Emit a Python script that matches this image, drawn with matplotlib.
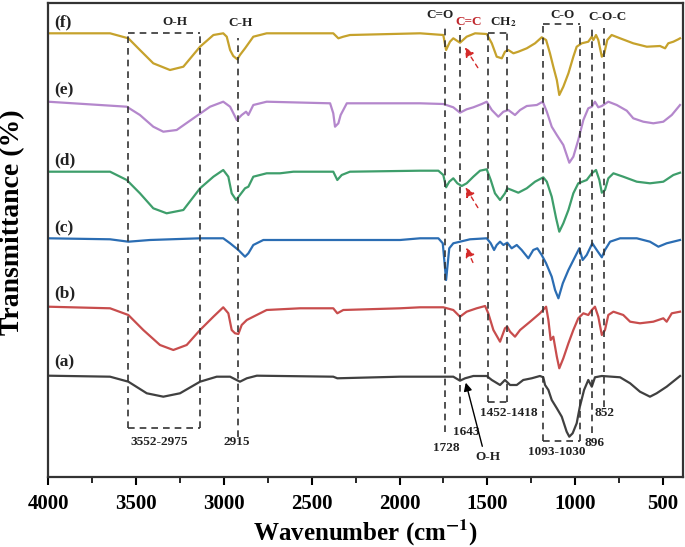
import matplotlib
matplotlib.use("Agg")
import matplotlib.pyplot as plt
from matplotlib.ticker import MultipleLocator

plt.rcParams['font.family'] = ['Liberation Serif', 'DejaVu Serif']
plt.rcParams['font.weight'] = 'bold'
plt.rcParams['mathtext.fontset'] = 'stix'

# ---------------- data ----------------
wn_f = [4000, 3647, 3543, 3477, 3401, 3306, 3230, 3135, 3059, 3003, 2983, 2964, 2946, 2923, 2908, 2879, 2832, 2756,
        2377, 2348, 2320, 2282, 1883, 1751, 1735, 1713, 1694, 1656, 1618, 1570, 1504, 1475, 1447, 1418, 1400, 1381,
        1352, 1324, 1276, 1229, 1191, 1166, 1144, 1125, 1105, 1091, 1068, 1039, 1011, 992, 963, 926, 906, 897, 882,
        869, 849, 835, 818, 793, 745, 670, 593, 518, 489, 471, 442, 414, 404]
t_f = [443.7, 443.7, 438.7, 427, 413.7, 407, 410.3, 430.3, 442, 443.7, 440.3, 427, 421, 417.7, 422, 428.7, 440.3, 443.7,
       443.7, 438.7, 440.3, 442, 443.7, 442, 427, 435.3, 438.7, 434.3, 440.3, 443.7, 443, 433.7, 420.3, 418.7, 425.3, 427,
       423.7, 425.3, 428.7, 433.7, 439.7, 437, 423.7, 410.3, 397, 382, 390.3, 403.7, 420.3, 430.3, 433.7, 435.3, 440.3, 437, 442,
       437, 420.3, 423.7, 437, 442, 438.7, 433.7, 430.3, 431, 428.7, 433.7, 435.3, 437.7, 438.7]

wn_e = [4000, 3552, 3477, 3401, 3344, 3268, 3173, 3078, 3003, 2964, 2926, 2898, 2873, 2860, 2832, 2756,
        2395, 2377, 2367, 2348, 2335, 2300, 1883, 1751, 1694, 1656, 1618, 1580, 1532, 1504, 1475, 1438, 1409, 1381,
        1343, 1314, 1276, 1219, 1185, 1162, 1134, 1105, 1068, 1034, 1011, 983, 954, 926, 906, 888, 869, 849, 812,
        764, 707, 670, 613, 556, 499, 451, 404]
t_e = [375.3, 370.3, 362, 350.3, 345.3, 347, 358.7, 370.3, 375.3, 370.3, 357, 362, 365.3, 362, 372, 375.3,
       373.7, 363.7, 350.3, 353.7, 362, 373.7, 373.7, 373, 369.7, 364.3, 367.7, 369.7, 373, 375.3, 367, 360.3, 365.3, 367,
       362, 367, 371, 372, 375.3, 365.3, 350.3, 342, 332, 314.3, 320.3, 337, 357, 368.7, 370.3, 375.3, 369.7, 371, 375.3,
       372, 366.3, 358.7, 355.3, 353.7, 355.3, 362, 372]

wn_d = [4000, 3647, 3552, 3477, 3401, 3325, 3230, 3135, 3059, 3003, 2974, 2955, 2930, 2908, 2879, 2860, 2832, 2756,
        2680, 2604, 2377, 2354, 2329, 2282, 1883, 1779, 1751, 1735, 1717, 1694, 1671, 1646, 1618, 1580, 1542, 1504,
        1481, 1457, 1428, 1400, 1387, 1362, 1324, 1276, 1229, 1182, 1162, 1134, 1109, 1091, 1068, 1039, 1011, 983,
        935, 906, 882, 863, 849, 831, 812, 783, 727, 650, 575, 499, 442, 404]
t_d = [305.3, 305.3, 297, 283.7, 268.7, 263.7, 267, 288.7, 300.3, 307, 300.3, 283.7, 277, 282, 288.7, 290.3, 300.3, 303.7,
       303.7, 305.3, 305.3, 297, 302, 305.3, 306.3, 306.3, 302, 289.7, 295.3, 298.7, 293.7, 291, 293.7, 300.3, 306.3, 307.7,
       297, 283.7, 277, 283.7, 288.7, 287, 284.3, 288.7, 295.3, 299.7, 295.3, 280.3, 258.7, 245.3, 253.7, 267, 283.7, 293.7,
       297, 303.7, 307, 297, 284.3, 287, 298.7, 303.7, 300.3, 295.3, 293.7, 295.3, 302, 304.3]

wn_c = [4000, 3647, 3543, 3420, 3135, 3003, 2964, 2917, 2879, 2860, 2832, 2775, 2377, 1997, 1883, 1779, 1754, 1735,
        1717, 1694, 1656, 1599, 1504, 1481, 1462, 1447, 1428, 1409, 1387, 1362, 1333, 1305, 1267, 1239, 1216, 1191,
        1166, 1134, 1115, 1096, 1071, 1039, 1001, 977, 958, 935, 903, 878, 849, 831, 802, 745, 650, 575, 527, 480, 404]
t_c = [238.7, 237.7, 235.3, 237, 238.7, 238.7, 233.7, 227, 220.3, 223.7, 232, 237, 237, 237, 238.7, 238.7, 233.7, 197,
       228.7, 233.7, 235.3, 237.7, 238.7, 233.7, 227, 232, 235.3, 232, 234.3, 228.7, 232, 227, 218.7, 227, 228.7, 222,
       213.7, 200.3, 187, 178.7, 193.7, 207, 220.3, 228.7, 217, 222, 233.7, 227, 219.7, 227, 235.3, 238.7, 238.7, 235.3, 230.3, 233.7, 237]

wn_b = [4000, 3647, 3543, 3458, 3363, 3287, 3211, 3135, 3059, 3003, 2974, 2955, 2936, 2917, 2898, 2869, 2832, 2756,
        2566, 2377, 2354, 2320, 1997, 1883, 1751, 1694, 1656, 1618, 1561, 1513, 1495, 1466, 1428, 1400, 1387, 1371,
        1343, 1314, 1257, 1201, 1166, 1153, 1140, 1125, 1105, 1091, 1068, 1039, 1011, 983, 954, 926, 906, 888, 869,
        849, 831, 812, 783, 727, 688, 632, 556, 499, 480, 451, 404]
t_b = [170.3, 168.7, 162, 147, 132, 127, 132, 147, 160.3, 169.7, 163.7, 147, 143.7, 143, 152, 157, 160.3, 167,
       168.7, 168.7, 163.7, 167, 168.7, 169.7, 169.7, 167, 160.3, 165.3, 168.7, 171, 163.7, 147, 135.3, 148.7, 150.3, 145.3,
       140.3, 147, 155.3, 163.7, 170.3, 157, 137, 140.3, 120.3, 108.7, 118.7, 133.7, 147, 158.7, 163.7, 162, 167, 170.3, 160.3,
       142, 147, 162, 165.3, 162, 155.3, 153.7, 155.3, 158.7, 155.3, 163.7, 165.3]

wn_a = [4000, 3647, 3543, 3438, 3344, 3249, 3135, 3040, 2964, 2908, 2869, 2812, 2377, 2354, 1997, 1883, 1694, 1656,
        1627, 1580, 1504, 1475, 1428, 1400, 1371, 1333, 1296, 1248, 1201, 1182, 1172, 1153, 1134, 1105, 1077, 1049,
        1034, 1015, 992, 974, 950, 926, 906, 888, 849, 745, 688, 632, 575, 537, 480, 404]
t_a = [101.3, 100.3, 95.3, 83.7, 80.3, 83.7, 95.3, 100.3, 100.3, 95.3, 98.7, 101.3, 100.3, 98.7, 100.3, 100.3, 100.3, 96.3,
       98.7, 101, 101, 97, 92, 97, 92, 92, 97, 98.7, 101, 99.7, 92, 87, 77, 68.7, 60.3, 45.3,
       40.3, 43.7, 53.7, 70.3, 87, 97, 90.3, 99.7, 101, 99.7, 93.7, 85.3, 80.3, 83.7, 90.3, 101]

series = [
    ("(a)", wn_a, t_a, "#404040"),
    ("(b)", wn_b, t_b, "#C84D4D"),
    ("(c)", wn_c, t_c, "#2B6DB3"),
    ("(d)", wn_d, t_d, "#3E9E6B"),
    ("(e)", wn_e, t_e, "#B487CC"),
    ("(f)", wn_f, t_f, "#C6A22C"),
]
label_y = {"(a)": 115, "(b)": 184, "(c)": 249, "(d)": 317, "(e)": 387, "(f)": 455}

# ---------------- figure ----------------
fig = plt.figure(figsize=(6.85, 5.47), dpi=100)
ax = fig.add_axes([0.0701, 0.128, 0.927, 0.8665])

for name, wn, t, col in series:
    ax.plot(wn, t, color=col, lw=1.6, solid_joinstyle='round')
    ax.text(3965, label_y[name], name, fontsize=12.5, fontweight='bold', ha='left', va='center', color='#222222')

ax.set_xlim(4000, 387)
ax.set_ylim(0, 474)
ax.xaxis.set_major_locator(MultipleLocator(500))
ax.xaxis.set_minor_locator(MultipleLocator(250))
ax.set_yticks([])
ax.tick_params(axis='x', which='major', direction='out', length=6, width=1.5, labelsize=15, pad=6)
ax.tick_params(axis='x', which='minor', direction='out', length=4, width=1.2)
for lab in ax.get_xticklabels():
    lab.set_fontweight('bold')
for s in ax.spines.values():
    s.set_linewidth(1.6)
    s.set_color('#333333')

fig.text(0.5335, 1 - 533 / 547, r'Wavenumber (cm$^{\mathbf{-1}}$)', fontsize=18, fontweight='bold',
         ha='center', va='center')
fig.text(0.019, 1 - 222 / 547, 'Transmittance (%)', rotation=90, fontsize=20, fontweight='bold',
         ha='center', va='center')

dkw = dict(color='#333333', lw=1.2, ls=(0, (4, 3)))
# O-H box
ax.plot([3543, 3543], [49, 443.7], **dkw)
ax.plot([3135, 3135], [49, 443.7], **dkw)
ax.plot([3543, 3135], [443.7, 443.7], **dkw)
ax.plot([3543, 3135], [49, 49], **dkw)
# C-H
ax.plot([2917, 2917], [40, 439], **dkw)
# C=O, C=C
ax.plot([1741, 1741], [45, 450], **dkw)
ax.plot([1656, 1656], [62, 450], **dkw)
# CH2 box
ax.plot([1495, 1495], [75, 444], **dkw)
ax.plot([1390, 1390], [75, 444], **dkw)
ax.plot([1495, 1390], [444, 444], **dkw)
ax.plot([1495, 1390], [75, 75], **dkw)
# C-O box
ax.plot([1185, 1185], [36, 452.7], **dkw)
ax.plot([973, 973], [36, 452.7], **dkw)
ax.plot([1185, 973], [452.7, 452.7], **dkw)
ax.plot([1185, 973], [36, 36], **dkw)
# C-O-C
ax.plot([905, 905], [44, 449], **dkw)
ax.plot([836, 836], [70, 449], **dkw)

akw = dict(fontsize=9.5, fontweight='bold', ha='center', va='center', color='#222222')
ax.text(3277, 455, 'O-H', **akw)
ax.text(2907, 454, 'C-H', **akw)
ax.text(1770, 462, 'C=O', **akw)
ax.text(1609, 455, 'C=C', fontsize=9.5, fontweight='bold', ha='center', va='center', color='#C0272D')
ax.text(1411, 455, r'CH$_{\mathbf{2}}$', **akw)
ax.text(1075, 462, 'C-O', **akw)
ax.text(819, 460, 'C-O-C', **akw)

ax.text(3368, 35, '3552-2975', **akw)
ax.text(2926, 35, '2915', **akw)
ax.text(1731, 29, '1728', **akw)
ax.text(1618, 45, '1643', **akw)
ax.text(1377, 64, '1452-1418', **akw)
ax.text(1105, 25, '1093-1030', **akw)
ax.text(888, 34, '896', **akw)
ax.text(831, 64, '852', **akw)
ax.text(1496, 20, 'O-H', **akw)

# arrows
ax.annotate('', xy=(1627, 97), xytext=(1525, 28),
            arrowprops=dict(arrowstyle='-|>', color='black', lw=1.0, mutation_scale=12))
for (x0, y0, x1, y1) in [(1546, 407, 1637, 432), (1546, 267, 1633, 292), (1576, 212, 1627, 232)]:
    ax.annotate('', xy=(x1, y1), xytext=(x0, y0),
                arrowprops=dict(arrowstyle='-|>', color='#D42A2A', lw=1.0, ls=(0, (3, 3)), mutation_scale=14))

fig.savefig('out.png', dpi=100)
